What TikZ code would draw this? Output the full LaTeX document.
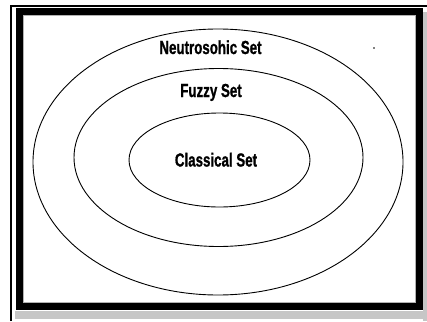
\documentclass[tikz,border=0pt]{standalone}
\usepackage{fontspec}
\setmainfont{Liberation Sans}
\newfontfamily\heavyfont[FakeBold=1.2]{Liberation Sans Bold}
\newcommand\condtext[1]{\scalebox{0.74}[1.05]{\heavyfont #1}}
\begin{document}
\begin{tikzpicture}[x=1pt,y=-1pt,
  ring/.style={draw=black,line width=0.9pt},
  lbl/.style={inner sep=0pt,font=\fontsize{18}{20}\selectfont,text=black}]
\useasboundingbox (0,0) rectangle (427,321);
\fill[white] (0,0) rectangle (427,321);
% shadow (dotted grey)
\fill[gray!45] (423,12) rectangle (427,321);
\fill[gray!45] (15,311) rectangle (427,319);
% outer thin line
\draw[line width=1.2pt] (11,321) -- (11,6) -- (427,6);
% thick frame
\draw[line width=7pt] (19,11.5) rectangle (419,306);
\draw[gray!60,line width=0.6pt] (22.8,15.3) rectangle (415.2,302.2);
% ellipses
\draw[ring] (218,162) ellipse [x radius=185,y radius=133];
\draw[ring] (218.5,157.5) ellipse [x radius=144.5,y radius=89];
\draw[ring] (219.5,160) ellipse [x radius=90.5,y radius=47];
% small dot
\fill (374,48) circle (0.8);
% labels
\node[lbl,anchor=base] (neu) at (210.5,54) {\condtext{Neutrosohic Set}};
\node[lbl,anchor=base] (fuz) at (211,97) {\condtext{Fuzzy Set}};
\node[lbl,anchor=base] (cla) at (216,166.5) {\condtext{Classical Set}};
\end{tikzpicture}
\end{document}
